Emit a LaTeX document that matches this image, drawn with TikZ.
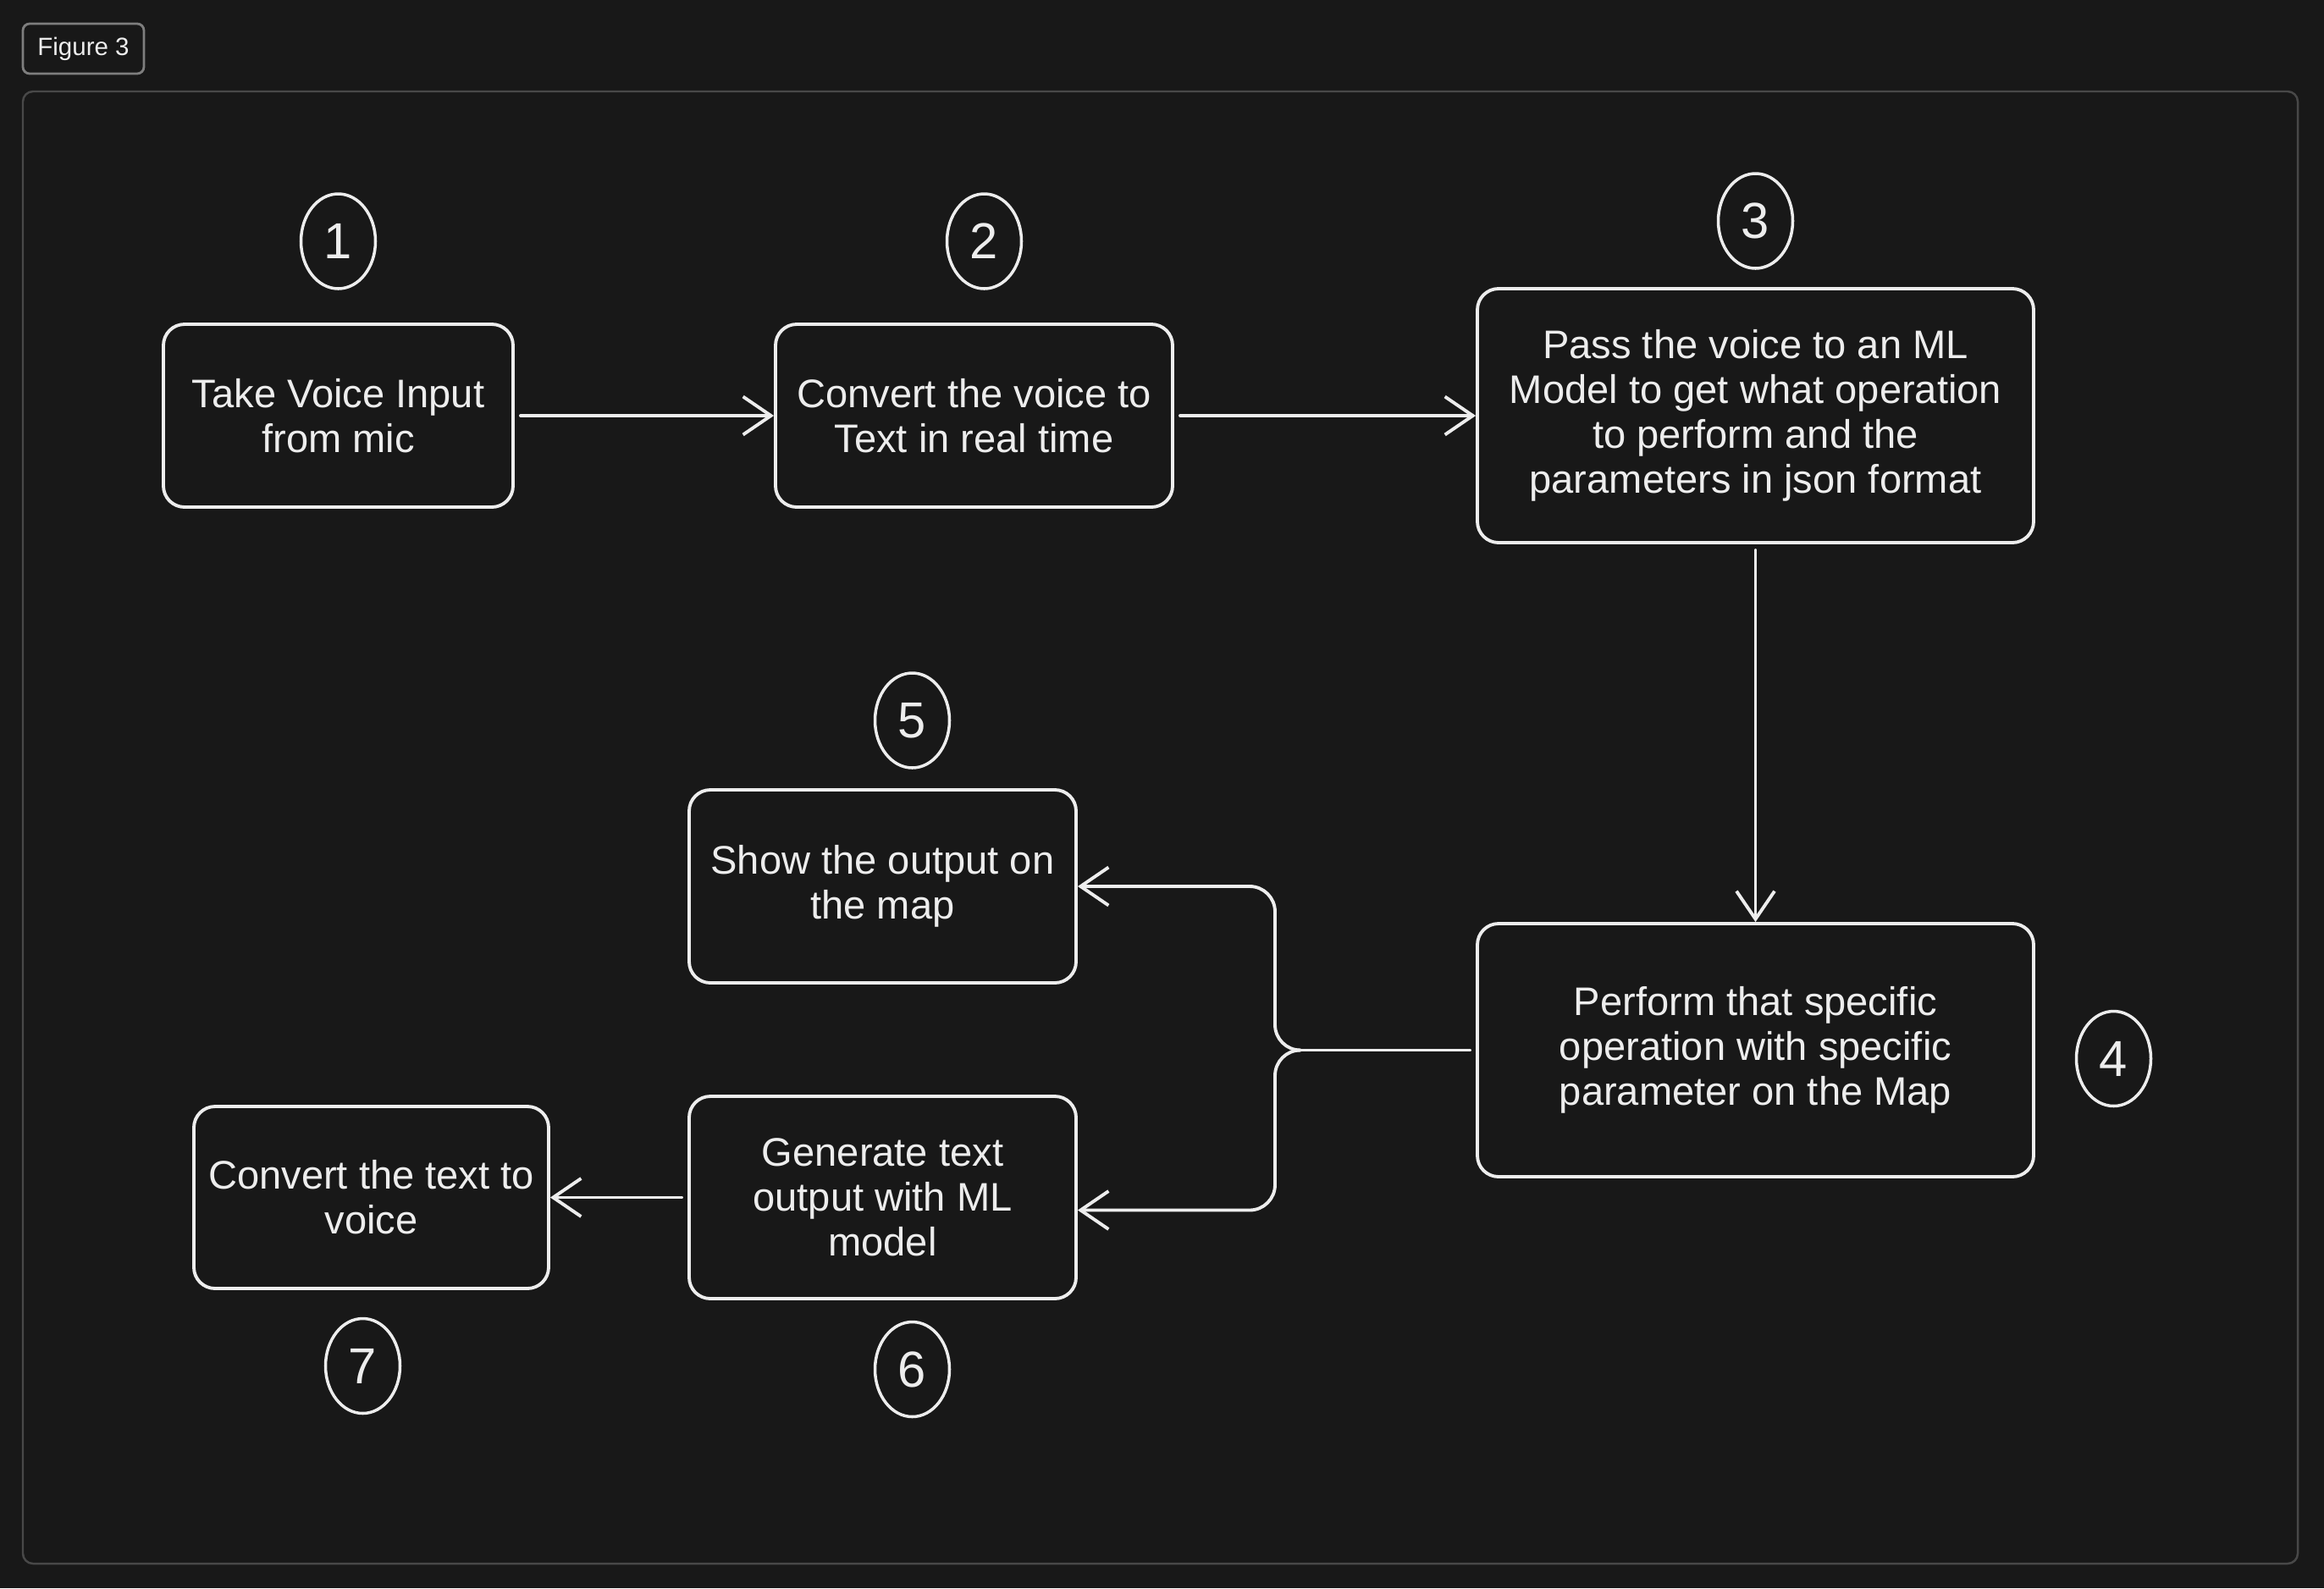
\documentclass[tikz,border=0pt]{standalone}
\usepackage{fontspec}
\setmainfont{Liberation Sans}
\usetikzlibrary{positioning, arrows.meta, calc, shapes.geometric}
\definecolor{bgcol}{HTML}{181818}
\definecolor{ink}{HTML}{EDEDED}
\definecolor{framecol}{HTML}{484848}
\definecolor{tagcol}{HTML}{7E7E7E}
\tikzset{
  flow/.style={
	line width=1.1pt, % all strokes the same weight
	line cap=round, line join=round,
	every node/.style={text=ink}, % white text on the dark page
  },
  stepbox/.style={draw=ink, rounded corners=0.25cm, align=center, inner sep=0pt,
	font=\fontsize{13.4}{15.1}\selectfont}, % the process boxes
  num/.style={ellipse, draw=ink, line width=1pt, inner sep=0pt,
	minimum width=0.88cm, minimum height=1.12cm, font=\fontsize{17}{17}\selectfont}, % step numbers
  link/.style={-{Straight Barb[length=0.33cm,width=0.45cm]}, draw=ink, shorten <=2pt}, % open arrow heads
}
\begin{document}
\begin{tikzpicture}[flow]
\fill[bgcol] (0,0) rectangle (27.45,-18.76);
\useasboundingbox (0,0) rectangle (27.45,-18.76);

% frame and caption tag
\draw[framecol, line width=0.7pt, rounded corners=0.12cm] (0.27,-1.08) rectangle (27.14,-18.47);
\node[draw=tagcol, line width=0.8pt, rounded corners=0.08cm, minimum width=1.43cm, minimum height=0.59cm,
	inner sep=0pt, font=\fontsize{8.4}{9}\selectfont] (tag) at (0.985,-0.575) {Figure 3};

% boxes
\node[stepbox, minimum width=4.13cm, minimum height=2.16cm] (b1) at (3.995,-4.91) {Take Voice Input\\from mic};
\node[stepbox, minimum width=4.69cm, minimum height=2.16cm] (b2) at (11.505,-4.91) {Convert the voice to\\Text in real time};
\node[stepbox, minimum width=6.57cm, minimum height=3.00cm] (b3) at (20.735,-4.91) {Pass the voice to an ML\\Model to get what operation\\to perform and the\\parameters in json format};
\node[stepbox, minimum width=6.57cm, minimum height=2.99cm] (b4) at (20.735,-12.405) {Perform that specific\\operation with specific\\parameter on the Map};
\node[stepbox, minimum width=4.57cm, minimum height=2.28cm] (b5) at (10.425,-10.47) {Show the output on\\the map};
\node[stepbox, minimum width=4.57cm, minimum height=2.39cm] (b6) at (10.425,-14.145) {Generate text\\output with ML\\model};
\node[stepbox, minimum width=4.19cm, minimum height=2.15cm] (b7) at (4.385,-14.145) {Convert the text to\\voice};

% numbers
\node[num, above of=b1, node distance=2.06cm] (n1) {1};
\node[num, above of=b2, node distance=2.06cm, xshift=0.12cm] (n2) {2};
\node[num, above of=b3, node distance=2.30cm] (n3) {3};
\node[num, right of=b4, node distance=4.23cm, yshift=-0.1cm] (n4) {4};
\node[num, above of=b5, node distance=1.96cm, xshift=0.35cm] (n5) {5};
\node[num, below of=b6, node distance=2.03cm, xshift=0.35cm] (n6) {6};
\node[num, below of=b7, node distance=1.99cm, xshift=-0.1cm] (n7) {7};

% connectors
\coordinate (split) at (15.32,-12.405);
\draw[link] (b1) -- (b2);
\draw[link] (b2) -- (b3);
\draw[link] (b3) -- (b4);
\draw[ink, shorten <=2pt] (b4.west) -- (split);
\draw[link, shorten <=0pt, rounded corners=0.3cm] (split) -- ++(-0.26,0) |- (b5.east);
\draw[link, shorten <=0pt, rounded corners=0.3cm] (split) -- ++(-0.26,0) |- ($(b6.east)+(0,-0.15)$);
\draw[link] (b6) -- (b7);
\end{tikzpicture}
\end{document}
